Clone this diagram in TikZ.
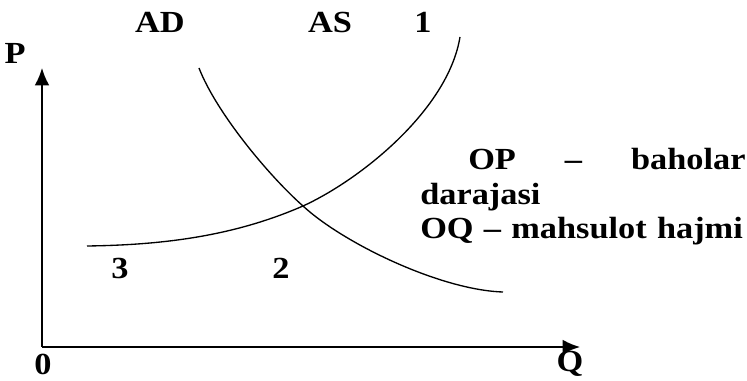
\documentclass[tikz,border=0pt]{standalone}
\usepackage{fontspec}
\setmainfont{Liberation Serif}[FakeStretch=1.12]
\usetikzlibrary{arrows.meta}

\begin{document}
\begin{tikzpicture}[
        x=0.75pt, y=-0.75pt,
        axis/.style = {
            line width=1.2pt,
            -{Latex[length=13pt,width=11pt]}},
        curve/.style = {line width=1pt},
        lbl/.style = {
            font=\bfseries\fontsize{23}{26}\selectfont,
            inner sep=0pt}
    ]
    \useasboundingbox (0,0) rectangle (747,381);
    \coordinate (O) at (42,347);
    \coordinate (Ptip) at (42,68);
    \coordinate (Qtip) at (580,347);
    \draw[axis] (O) -- (Ptip);
    \draw[axis] (O) -- (Qtip);
    % supply
    \coordinate (E) at (303,206);
    \draw[curve] (87,246) .. controls (160,245) and (232,237) .. (E)
        .. controls (360,180) and (448,110) .. (460,37);
    % demand
    \draw[curve] (199,68) .. controls (216,112) and (268,175) .. (E)
        .. controls (343,243) and (440,290) .. (503,292);
    \node[lbl] (P) at (15,53) {P};
    \node[lbl, anchor=base] (zero) at (43,374) {0};
    \node[lbl, anchor=base] (Q) at (570,372) {Q};
    \node[lbl] (AD) at (160,22) {AD};
    \node[lbl] (AS) at (330,22) {AS};
    \node[lbl] (one) at (423,22) {1};
    \node[lbl] (two) at (281,268) {2};
    \node[lbl] (three) at (120,268) {3};
    \node[lbl, text width=244pt, align=left, anchor=north west] (legend) at (420,148)
        {\hspace*{36pt}OP\hfill--\hfill baholar\\darajasi\\OQ -- mahsulot hajmi};
\end{tikzpicture}
\end{document}
